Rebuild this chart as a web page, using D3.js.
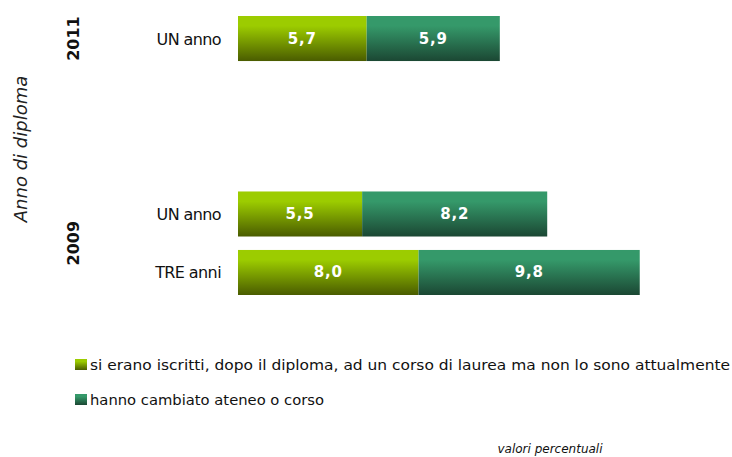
<!DOCTYPE html>
<html>
<head>
	<meta charset="utf-8">
	<title>Anno di diploma</title>
	<script src="https://d3js.org/d3.v7.min.js" charset="utf-8"></script>
	<style>
		body { margin: 0; background: #fff; }
		text { font-family: "DejaVu Sans", sans-serif; }
	</style>
</head>
<body>
	<svg width="732" height="457"></svg>
	<script>
		// data
		const rows = ["2011 UN", "gap1", "gap2", "2009 UN", "2009 TRE"];
		const rowLabels = ["UN anno", "", "", "UN anno", "TRE anni"];
		const iscritti = [5.7, null, null, 5.5, 8.0];
		const cambiato = [5.9, null, null, 8.2, 9.8];
		const years = [{ label: "2011", from: "2011 UN", to: "2011 UN" },
		               { label: "2009", from: "2009 UN", to: "2009 TRE" }];
		const seriesNames = ["si erano iscritti, dopo il diploma, ad un corso di laurea ma non lo sono attualmente",
		                     "hanno cambiato ateneo o corso"];

		const svg = d3.select('svg');

		// gradients for the two series
		const defs = svg.append('defs');
		const grads = [
			{ id: 'gGreen', top: '#9ccc00', bottom: '#4a5c00' },
			{ id: 'gTeal', top: '#35996a', bottom: '#1b4733' }
		];
		grads.forEach(g => {
			const lg = defs.append('linearGradient')
				.attr('id', g.id).attr('x1', 0).attr('y1', 0).attr('x2', 0).attr('y2', 1);
			lg.append('stop').attr('offset', '0%').attr('stop-color', g.top);
			lg.append('stop').attr('offset', '22%').attr('stop-color', g.top);
			lg.append('stop').attr('offset', '100%').attr('stop-color', g.bottom);
		});

		const xScale = d3.scaleLinear().domain([0, 18]).range([238, 238 + 18 * 22.57]);
		const yScale = d3.scaleBand().domain(rows).range([16, 295]).paddingInner(0.23);

		const data = rows.map((r, i) => ({ key: r, label: rowLabels[i], a: iscritti[i], b: cambiato[i] }))
			.filter(d => d.a != null);

		const fmt = v => d3.format('.1f')(v).replace('.', ',');

		// bars
		const bars = svg.append('g');
		data.forEach(d => {
			const segs = [
				{ x0: 0, x1: d.a, v: d.a, fill: 'url(#gGreen)' },
				{ x0: d.a, x1: d.a + d.b, v: d.b, fill: 'url(#gTeal)' }
			];
			segs.forEach(s => {
				bars.append('rect')
					.attr('x', xScale(s.x0))
					.attr('y', yScale(d.key))
					.attr('width', xScale(s.x1) - xScale(s.x0))
					.attr('height', yScale.bandwidth())
					.attr('fill', s.fill);
				bars.append('text')
					.attr('x', (xScale(s.x0) + xScale(s.x1)) / 2)
					.attr('y', yScale(d.key) + yScale.bandwidth() / 2 + 5)
					.attr('text-anchor', 'middle')
					.attr('fill', '#fff')
					.attr('font-weight', 'bold')
					.attr('font-size', 15)
					.attr('letter-spacing', 0.8)
					.text(fmt(s.v));
			});
			// category label
			svg.append('text')
				.attr('x', 221)
				.attr('y', yScale(d.key) + yScale.bandwidth() / 2 + 6)
				.attr('text-anchor', 'end')
				.attr('font-size', 16)
				.attr('fill', '#111')
				.attr('letter-spacing', -0.6)
				.text(d.label);
		});

		// year labels, rotated
		years.forEach(y => {
			const cy = (yScale(y.from) + yScale(y.to) + yScale.bandwidth()) / 2;
			svg.append('text')
				.attr('transform', `translate(79, ${cy}) rotate(-90)`)
				.attr('text-anchor', 'middle')
				.attr('font-weight', 'bold')
				.attr('font-size', 16)
				.attr('fill', '#111')
				.text(y.label);
		});

		// axis title
		svg.append('text')
			.attr('transform', 'translate(27, 149) rotate(-90)')
			.attr('text-anchor', 'middle')
			.attr('font-style', 'italic')
			.attr('font-size', 18)
			.attr('fill', '#222')
			.text('Anno di diploma');

		// legend
		const legend = svg.append('g');
		seriesNames.forEach((n, i) => {
			const ly = 370 + i * 35;
			legend.append('rect')
				.attr('x', 75).attr('y', ly - 11)
				.attr('width', 12).attr('height', 11)
				.attr('fill', i === 0 ? 'url(#gGreen)' : 'url(#gTeal)');
			const t = legend.append('text')
				.attr('x', 90).attr('y', ly)
				.attr('font-size', 14.5)
				.attr('fill', '#111')
				.text(n);
			if (i === 0) t.attr('textLength', 640).attr('lengthAdjust', 'spacingAndGlyphs');
			else t.attr('textLength', 234).attr('lengthAdjust', 'spacingAndGlyphs');
		});

		svg.append('text')
			.attr('x', 550).attr('y', 453)
			.attr('text-anchor', 'middle')
			.attr('font-style', 'italic')
			.attr('font-size', 12)
			.attr('fill', '#111')
			.text('valori percentuali');
	</script>
</body>
</html>
